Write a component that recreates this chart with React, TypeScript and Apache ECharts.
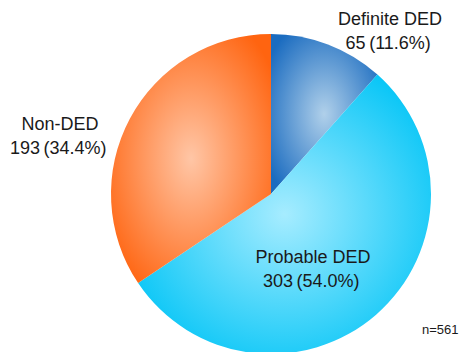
import React, { useEffect, useRef } from "react";
import * as echarts from "echarts";

const categories = ["Definite DED", "Probable DED", "Non-DED"];
const counts = [65, 303, 193];
const totalLabel = "n=561";

const outerColors = ["#1b6cc0", "#00c4f6", "#ff6410"];
const innerColors = ["#b0d0ea", "#a6ecff", "#ffc6a6"];
const labelPos: [number, number][] = [
  [390, 31],
  [313, 269],
  [60, 136],
];

export default function App() {
  const ref = useRef<HTMLDivElement>(null);
  useEffect(() => {
    if (!ref.current) return;
    const chart = echarts.init(ref.current, null, { renderer: "svg" });
    chart.setOption({
      animation: false,
      backgroundColor: "#ffffff",
      graphic: [
        {
          type: "text",
          left: 422,
          top: 323,
          style: {
            text: totalLabel,
            fontSize: 13,
            fontFamily: "Liberation Sans, Arial, sans-serif",
            fill: "#1a1a1a",
          },
        },
      ],
      series: [
        {
          type: "pie",
          center: [271, 194],
          radius: 160,
          startAngle: 90,
          clockwise: true,
          percentPrecision: 1,
          label: {
            show: true,
            position: "inside",
            formatter: (p: any) =>
              `${p.name}\n${p.value}\u2009(${Number(p.percent).toFixed(1)}%)\u2009`,
            fontSize: 18,
            lineHeight: 24,
            fontFamily: "Liberation Sans, Arial, sans-serif",
            color: "#1a1a1a",
            align: "center",
          },
          labelLine: { show: false },
          labelLayout: (p: any) => ({
            x: labelPos[p.dataIndex][0],
            y: labelPos[p.dataIndex][1],
            align: "center",
            verticalAlign: "middle",
          }),
          emphasis: { disabled: true },
          data: categories.map((c, i) => ({
            name: c,
            value: counts[i],
            itemStyle: {
              color: new echarts.graphic.RadialGradient(0.5, 0.5, 0.62, [
                { offset: 0, color: innerColors[i] },
                { offset: 1, color: outerColors[i] },
              ]),
              borderWidth: 0,
            },
          })),
        },
      ],
    });
    return () => chart.dispose();
  }, []);
  return (
    <div
      ref={ref}
      style={{ position: "fixed", left: 0, top: 0, width: 465, height: 352 }}
    />
  );
}
